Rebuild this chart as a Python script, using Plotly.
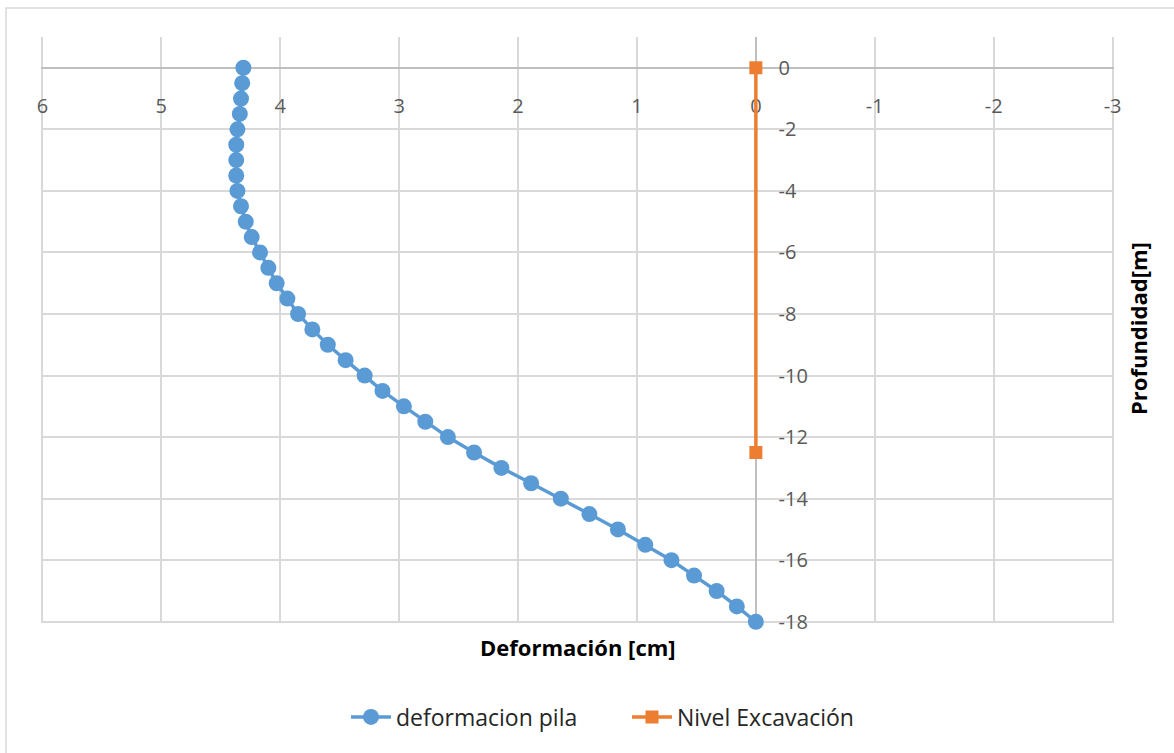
import plotly.graph_objects as go

# Pile deflection profile (cm) against depth (m)
profundidad = [0, -0.5, -1, -1.5, -2, -2.5, -3, -3.5, -4, -4.5, -5, -5.5, -6, -6.5,
               -7, -7.5, -8, -8.5, -9, -9.5, -10, -10.5, -11, -11.5, -12, -12.5,
               -13, -13.5, -14, -14.5, -15, -15.5, -16, -16.5, -17, -17.5, -18]
deformacion = [4.31, 4.32, 4.33, 4.34, 4.36, 4.37, 4.37, 4.37, 4.36, 4.33, 4.29, 4.24,
               4.17, 4.10, 4.03, 3.94, 3.85, 3.73, 3.60, 3.45, 3.29, 3.14, 2.96, 2.78,
               2.59, 2.37, 2.14, 1.89, 1.64, 1.40, 1.16, 0.93, 0.71, 0.52, 0.33, 0.16, 0.0]

# Excavation level marker
exc_x = [0, 0]
exc_y = [0, -12.5]

# Axis ticks (plain hyphen for negatives)
x_ticks = [6, 5, 4, 3, 2, 1, 0, -1, -2, -3]
x_ticktext = ["6", "5", "4", "3", "2", "1", "0", "-1", "-2", "-3"]
y_ticks = [0, -2, -4, -6, -8, -10, -12, -14, -16, -18]
y_ticktext = ["0", "-2", "-4", "-6", "-8", "-10", "-12", "-14", "-16", "-18"]

W, H = 1174, 753
L, R, T, B = 41, 60, 37, 130
pw, ph = W - L - R, H - T - B

X_RANGE = [6.012, -3.012]
Y_RANGE = [-18.04, 1]

FONT = "Open Sans"
AXIS_GRAY = "#bfbfbf"
GRID_GRAY = "#d9d9d9"
TICK_COLOR = "#595959"


def px_to_paper_x(px):
    return (px - L) / pw


def px_to_paper_y(py):
    return (H - B - py) / ph


# positions of the crossing axes in plot-area fractions
x_axis_pos = (0 - Y_RANGE[0]) / (Y_RANGE[1] - Y_RANGE[0])
y_axis_pos = (X_RANGE[0] - 0) / (X_RANGE[0] - X_RANGE[1])

fig = go.Figure()

fig.add_trace(go.Scatter(
    x=deformacion, y=profundidad, mode="lines+markers",
    name="deformacion pila", cliponaxis=False,
    line=dict(color="#5B9BD5", width=3.5),
    marker=dict(symbol="circle", size=16, color="#5B9BD5"),
))

fig.add_trace(go.Scatter(
    x=exc_x, y=exc_y, mode="lines+markers",
    name="Nivel Excavación", cliponaxis=False,
    line=dict(color="#ED7D31", width=3.5),
    marker=dict(symbol="square", size=13, color="#ED7D31"),
))

fig.update_layout(
    width=W, height=H,
    margin=dict(l=L, r=R, t=T, b=B, autoexpand=False),
    paper_bgcolor="white", plot_bgcolor="white",
    font=dict(family=FONT, size=19, color=TICK_COLOR),
    showlegend=True,
    legend=dict(
        orientation="h", x=px_to_paper_x(346), y=px_to_paper_y(717),
        xanchor="left", yanchor="middle",
        font=dict(family=FONT, size=23, color="#262626"),
        itemwidth=40, tracegroupgap=0, entrywidth=226,
    ),
    xaxis=dict(
        range=X_RANGE, tickvals=x_ticks, ticktext=x_ticktext,
        showgrid=True, gridcolor=GRID_GRAY, gridwidth=1.5,
        zeroline=False, layer="below traces",
        showline=True, linecolor=AXIS_GRAY, linewidth=1.5,
        anchor="free", position=x_axis_pos, side="bottom",
        ticks="", ticklabelstandoff=20,
        tickfont=dict(family=FONT, size=20, color=TICK_COLOR),
    ),
    yaxis=dict(
        range=Y_RANGE, tickvals=y_ticks, ticktext=y_ticktext,
        showgrid=True, gridcolor=GRID_GRAY, gridwidth=1.5,
        zeroline=False, layer="below traces",
        showline=True, linecolor=AXIS_GRAY, linewidth=1.5,
        anchor="free", position=y_axis_pos, side="right",
        ticks="", ticklabelstandoff=18,
        tickfont=dict(family=FONT, size=20, color=TICK_COLOR),
    ),
    annotations=[
        dict(text="<b>Deformación [cm]</b>", xref="paper", yref="paper",
             x=0.5, y=px_to_paper_y(647), xanchor="center", yanchor="middle",
             showarrow=False, font=dict(family=FONT, size=22, color="#000000")),
        dict(text="<b>Profundidad[m]</b>", xref="paper", yref="paper",
             x=px_to_paper_x(1138), y=px_to_paper_y(329), xanchor="center", yanchor="middle",
             textangle=-90, showarrow=False,
             font=dict(family=FONT, size=22, color="#000000")),
    ],
    shapes=[
        dict(type="rect", xref="paper", yref="paper", layer="below",
             x0=px_to_paper_x(6), y0=px_to_paper_y(H + 5),
             x1=px_to_paper_x(W + 5), y1=px_to_paper_y(8),
             line=dict(color=GRID_GRAY, width=1.5), fillcolor="rgba(0,0,0,0)"),
    ],
)

fig.write_html("out.html")
